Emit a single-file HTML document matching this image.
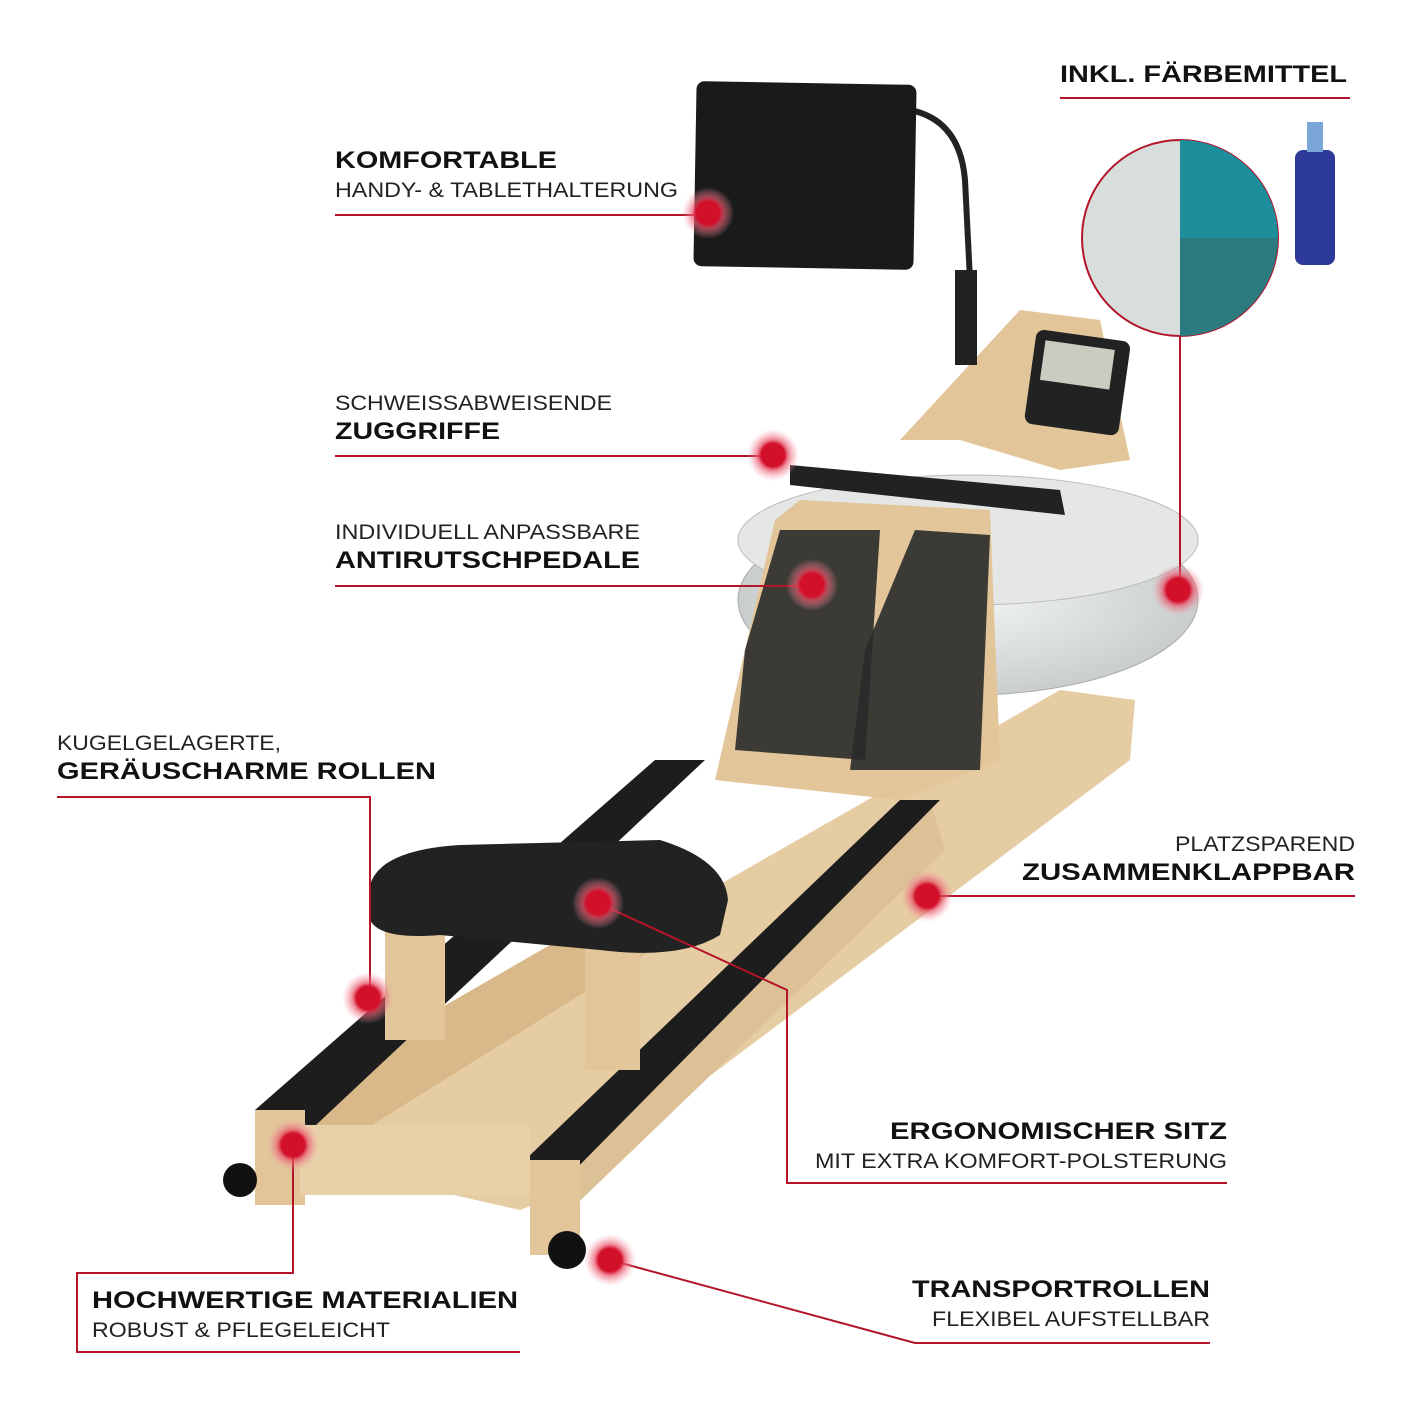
<!DOCTYPE html>
<html><head><meta charset="utf-8"><style>
html,body{margin:0;padding:0;background:#fff;}
svg{display:block}
.b{font-family:"Liberation Sans",sans-serif;font-weight:bold;font-size:24px;fill:#111}
.n{font-family:"Liberation Sans",sans-serif;font-size:21px;fill:#222}
.l{stroke:#b3142a;stroke-width:2;fill:none}
</style></head><body>
<svg width="1417" height="1417" viewBox="0 0 1417 1417" xmlns="http://www.w3.org/2000/svg">
<defs>
<radialGradient id="dot"><stop offset="0.45" stop-color="#d3102a"/><stop offset="0.6" stop-color="#e8546a" stop-opacity="0.7"/><stop offset="1" stop-color="#f5a0ac" stop-opacity="0"/></radialGradient>
<radialGradient id="water" cx="0.5" cy="0.5"><stop offset="0" stop-color="#f2f4f4"/><stop offset="1" stop-color="#c9cecd"/></radialGradient>
</defs>
<ellipse cx="968" cy="600" rx="230" ry="95" fill="url(#water)" stroke="#aaa"/>
<ellipse cx="968" cy="540" rx="230" ry="65" fill="#e4e7e6" stroke="#bbb"/>
<polygon points="255,1150 1060,690 1135,700 1130,760 545,1200 520,1210" fill="#e6cca2"/>
<polygon points="255,1115 680,870 700,920 300,1170" fill="#d9b98a"/>
<polygon points="530,1160 930,800 945,850 560,1220" fill="#dcc096"/>
<polygon points="255,1110 655,760 705,760 300,1140" fill="#1d1d1d"/>
<polygon points="525,1160 900,800 940,800 560,1185" fill="#1d1d1d"/>
<rect x="255" y="1110" width="50" height="95" fill="#e2c69a"/>
<rect x="530" y="1160" width="50" height="95" fill="#e2c69a"/>
<rect x="300" y="1125" width="230" height="70" fill="#e8d0a8"/>
<circle cx="240" cy="1180" r="17" fill="#111"/>
<circle cx="567" cy="1250" r="19" fill="#111"/>
<rect x="385" y="930" width="60" height="110" fill="#e2c69a"/>
<rect x="585" y="940" width="55" height="130" fill="#e2c69a"/>
<path d="M370,885 Q380,850 460,845 L660,840 Q725,860 728,900 L720,935 Q680,960 600,950 L440,935 Q380,940 370,920 Z" fill="#222"/>
<polygon points="715,780 775,520 800,500 990,510 1000,760 900,800" fill="#e2c69a"/>
<polygon points="780,530 880,530 865,760 735,750 745,650" fill="#2a2a2a" opacity="0.9"/>
<polygon points="915,530 990,535 980,770 850,770 865,650" fill="#2a2a2a" opacity="0.9"/>
<polygon points="790,465 1060,490 1065,515 790,485" fill="#222"/>
<polygon points="900,440 1020,310 1100,320 1130,460 1060,470 960,440" fill="#e2c69a"/>
<rect x="1030" y="335" width="95" height="95" rx="8" fill="#222" transform="rotate(8 1077 382)"/>
<rect x="1040" y="345" width="70" height="40" fill="#c9ccc0" transform="rotate(8 1077 382)"/>
<path d="M910,110 Q960,120 965,180 L970,280 L965,360" stroke="#222" stroke-width="6" fill="none"/>
<rect x="955" y="270" width="22" height="95" fill="#222"/>
<rect x="695" y="83" width="220" height="185" rx="8" fill="#1a1a1a" transform="rotate(1 805 175)"/>
<circle cx="1180" cy="238" r="98" fill="#d8dedc" stroke="#b3142a" stroke-width="2"/>
<path d="M1180,140 A98,98 0 0 1 1278,238 L1180,238 Z" fill="#1c8e9c"/>
<path d="M1180,238 L1278,238 A98,98 0 0 1 1180,336 Z" fill="#2a7a80"/>
<rect x="1295" y="150" width="40" height="115" rx="8" fill="#2d3a9a"/>
<rect x="1307" y="122" width="16" height="30" fill="#7aa6d8"/>
<path class="l" d="M335,215 H705"/>
<path class="l" d="M1060,98 H1350"/>
<path class="l" d="M1180,336 V590"/>
<path class="l" d="M335,456 H770"/>
<path class="l" d="M335,586 H810"/>
<path class="l" d="M57,797 H370 V998"/>
<path class="l" d="M927,896 H1355"/>
<path class="l" d="M598,903 L787,990 V1183 H1227"/>
<path class="l" d="M293,1145 V1273 H77 V1352 H520"/>
<path class="l" d="M610,1260 L915,1343 H1210"/>
<g fill="url(#dot)">
<circle cx="708" cy="213" r="26"/><circle cx="1178" cy="590" r="26"/><circle cx="773" cy="455" r="26"/>
<circle cx="812" cy="585" r="26"/><circle cx="368" cy="998" r="26"/><circle cx="927" cy="896" r="26"/>
<circle cx="598" cy="903" r="26"/><circle cx="293" cy="1145" r="26"/><circle cx="610" cy="1260" r="26"/>
</g>
<text class="b" x="335" y="168" textLength="222" lengthAdjust="spacingAndGlyphs">KOMFORTABLE</text>
<text class="n" x="335" y="197" textLength="343" lengthAdjust="spacingAndGlyphs">HANDY- &amp; TABLETHALTERUNG</text>
<text class="b" x="1060" y="82" textLength="287" lengthAdjust="spacingAndGlyphs">INKL. FÄRBEMITTEL</text>
<text class="n" x="335" y="410" textLength="277" lengthAdjust="spacingAndGlyphs">SCHWEISSABWEISENDE</text>
<text class="b" x="335" y="439" textLength="165" lengthAdjust="spacingAndGlyphs">ZUGGRIFFE</text>
<text class="n" x="335" y="539" textLength="305" lengthAdjust="spacingAndGlyphs">INDIVIDUELL ANPASSBARE</text>
<text class="b" x="335" y="568" textLength="305" lengthAdjust="spacingAndGlyphs">ANTIRUTSCHPEDALE</text>
<text class="n" x="57" y="750" textLength="224" lengthAdjust="spacingAndGlyphs">KUGELGELAGERTE,</text>
<text class="b" x="57" y="779" textLength="379" lengthAdjust="spacingAndGlyphs">GERÄUSCHARME ROLLEN</text>
<text class="n" x="1175" y="851" textLength="180" lengthAdjust="spacingAndGlyphs">PLATZSPAREND</text>
<text class="b" x="1022" y="880" textLength="333" lengthAdjust="spacingAndGlyphs">ZUSAMMENKLAPPBAR</text>
<text class="b" x="890" y="1139" textLength="337" lengthAdjust="spacingAndGlyphs">ERGONOMISCHER SITZ</text>
<text class="n" x="815" y="1168" textLength="412" lengthAdjust="spacingAndGlyphs">MIT EXTRA KOMFORT-POLSTERUNG</text>
<text class="b" x="92" y="1308" textLength="426" lengthAdjust="spacingAndGlyphs">HOCHWERTIGE MATERIALIEN</text>
<text class="n" x="92" y="1337" textLength="298" lengthAdjust="spacingAndGlyphs">ROBUST &amp; PFLEGELEICHT</text>
<text class="b" x="912" y="1297" textLength="298" lengthAdjust="spacingAndGlyphs">TRANSPORTROLLEN</text>
<text class="n" x="932" y="1326" textLength="278" lengthAdjust="spacingAndGlyphs">FLEXIBEL AUFSTELLBAR</text>
</svg>
</body></html>
